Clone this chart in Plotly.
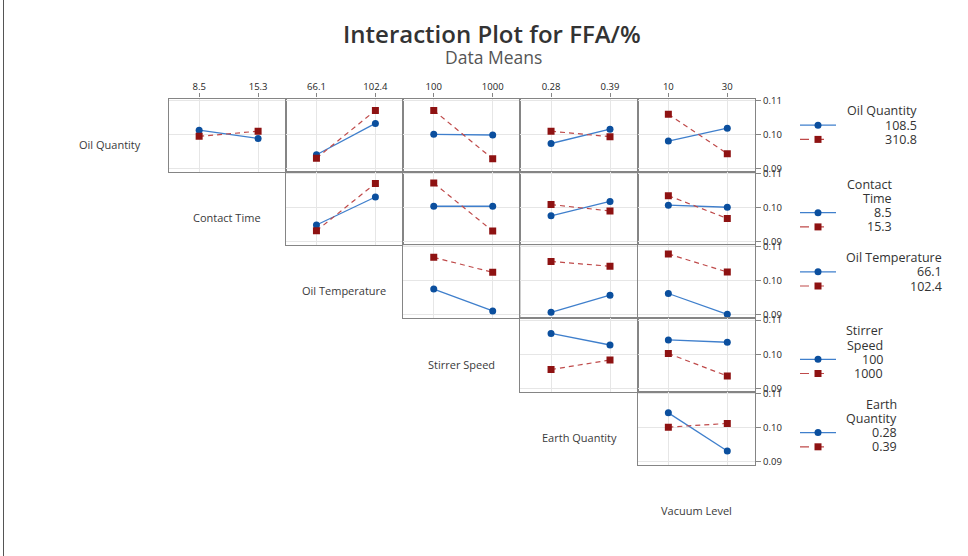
import plotly.graph_objects as go

W, H = 968, 556

# Factors (row trace factors and column x factors of the interaction matrix)
factor_names = ["Oil Quantity", "Contact Time", "Oil Temperature",
                "Stirrer Speed", "Earth Quantity", "Vacuum Level"]
oil_quantity_levels = ["108.5", "310.8"]
contact_time_levels = ["8.5", "15.3"]
oil_temperature_levels = ["66.1", "102.4"]
stirrer_speed_levels = ["100", "1000"]
earth_quantity_levels = ["0.28", "0.39"]
vacuum_level_levels = ["10", "30"]

# Mean FFA/% for each trace level, one [low x, high x] pair per x factor
oil_quantity_low = [[0.1012, 0.0988], [0.0940, 0.1032], [0.1000, 0.0998],
                    [0.0973, 0.1015], [0.0980, 0.1018]]
oil_quantity_high = [[0.0994, 0.1009], [0.0930, 0.1070], [0.1070, 0.0928],
                     [0.1009, 0.0993], [0.1059, 0.0943]]
contact_time_low = [[0.0949, 0.1031], [0.1004, 0.1004], [0.0976, 0.1018],
                    [0.1007, 0.1001]]
contact_time_high = [[0.0932, 0.1071], [0.1072, 0.0931], [0.1009, 0.0990],
                     [0.1035, 0.0968]]
oil_temperature_low = [[0.0976, 0.0912], [0.0908, 0.0958], [0.0963, 0.0902]]
oil_temperature_high = [[0.1069, 0.1025], [0.1057, 0.1043], [0.1079, 0.1026]]
stirrer_speed_low = [[0.1061, 0.1027], [0.1042, 0.1035]]
stirrer_speed_high = [[0.0955, 0.0983], [0.1002, 0.0936]]
earth_quantity_low = [[0.1043, 0.0931]]
earth_quantity_high = [[0.1001, 0.1012]]

y_ticks = [0.09, 0.10, 0.11]

all_levels = [oil_quantity_levels, contact_time_levels, oil_temperature_levels,
              stirrer_speed_levels, earth_quantity_levels, vacuum_level_levels]
rows_low = [oil_quantity_low, contact_time_low, oil_temperature_low,
            stirrer_speed_low, earth_quantity_low]
rows_high = [oil_quantity_high, contact_time_high, oil_temperature_high,
             stirrer_speed_high, earth_quantity_high]

# ---- styling / layout constants ----
BLUE_MK, BLUE_LN = "#0b4f9e", "#3f7fcc"
RED_MK, RED_LN = "#8e1212", "#bf4a4a"
FRAME = "#858585"
GRID = "#e6e6e6"
FONT = "Open Sans, Noto Sans, sans-serif"

COL_L, COL_W = 168.5, 117.3
ROW_T, ROW_H = 98.5, 73.3
X_RANGE = [-0.52, 1.47]
Y_RANGE = [0.0890, 0.1105]


def px(x):
    return x / W


def py(y):
    return 1 - y / H


def label(x, y, text, size, color="#333", xanchor="center", **font_extra):
    return dict(x=px(x), y=py(y), xref="paper", yref="paper", text=text,
                showarrow=False, xanchor=xanchor, yanchor="middle",
                font=dict(family=FONT, size=size, color=color, **font_extra))


fig = go.Figure()
layout = {}
k = 0
for r in range(5):
    for j, c in enumerate(range(r, 5)):
        k += 1
        xa = "xaxis" if k == 1 else f"xaxis{k}"
        ya = "yaxis" if k == 1 else f"yaxis{k}"
        xr = "x" if k == 1 else f"x{k}"
        yr = "y" if k == 1 else f"y{k}"
        x0 = COL_L + COL_W * c
        y0 = ROW_T + ROW_H * r
        xlevels = all_levels[c + 1]
        top_row = r == 0
        right_col = c == 4
        layout[xa] = dict(
            domain=[px(x0), px(x0 + COL_W)], anchor=yr, range=X_RANGE,
            tickmode="array", tickvals=[0, 1], ticktext=xlevels,
            showgrid=True, gridcolor=GRID, gridwidth=1, zeroline=False,
            showline=True, mirror=True, linecolor=FRAME, linewidth=1.3,
            side="top", ticks="outside" if top_row else "", ticklen=4,
            tickcolor=FRAME, showticklabels=top_row, automargin=False,
            tickfont=dict(family=FONT, size=9.5, color="#1e1e1e"),
            fixedrange=True)
        layout[ya] = dict(
            domain=[py(y0 + ROW_H), py(y0)], anchor=xr, range=Y_RANGE,
            tickmode="array", tickvals=y_ticks, tickformat=".2f",
            showgrid=True, gridcolor=GRID, gridwidth=1, zeroline=False,
            showline=True, mirror=True, linecolor=FRAME, linewidth=1.3,
            side="right", ticks="outside" if right_col else "", ticklen=5,
            tickcolor=FRAME, showticklabels=right_col, automargin=False,
            tickfont=dict(family=FONT, size=9.5, color="#1e1e1e"),
            fixedrange=True)
        fig.add_trace(go.Scatter(
            x=[0, 1], y=rows_low[r][j], xaxis=xr, yaxis=yr, mode="lines+markers",
            line=dict(color=BLUE_LN, width=1.3),
            marker=dict(symbol="circle", size=7, color=BLUE_MK),
            showlegend=False, hoverinfo="skip"))
        fig.add_trace(go.Scatter(
            x=[0, 1], y=rows_high[r][j], xaxis=xr, yaxis=yr, mode="lines+markers",
            line=dict(color=RED_LN, width=1.2, dash="5px,4px"),
            marker=dict(symbol="square", size=7, color=RED_MK),
            showlegend=False, hoverinfo="skip"))

annotations = []
shapes = []

# Title
annotations.append(label(492, 34, "Interaction Plot for FFA/%", 24,
                         weight=600))
annotations.append(label(493, 56.5, "Data Means", 17.5, color="#555"))

# Factor names on the diagonal
for i, name in enumerate(factor_names):
    cx = COL_L + COL_W * (i - 0.5)
    cy = ROW_T + ROW_H * (i + 0.5) + 9
    annotations.append(label(cx, cy, name, 11, color="#3a3a3a"))

# Legends, one per row
legend_titles = [["Oil Quantity"], ["Contact", "Time"], ["Oil Temperature"],
                 ["Stirrer", "Speed"], ["Earth", "Quantity"]]
legend_right = [919, 893.5, 944, 885, 898.5]
LINE = 14.2
GL0, GL1, GM, MR = 800, 836, 818, 3.5
for r in range(5):
    y0 = ROW_T + ROW_H * r + 12.5
    lines = legend_titles[r] + all_levels[r]
    for n, t in enumerate(lines):
        annotations.append(label(legend_right[r], y0 + LINE * n, t, 12.5,
                                 xanchor="right"))
    yb = y0 + LINE * len(legend_titles[r])
    yd = yb + LINE
    shapes.append(dict(type="line", xref="paper", yref="paper",
                       x0=px(GL0), x1=px(GL1), y0=py(yb), y1=py(yb),
                       line=dict(color=BLUE_LN, width=1.3)))
    shapes.append(dict(type="circle", xref="paper", yref="paper",
                       x0=px(GM - MR), x1=px(GM + MR),
                       y0=py(yb + MR), y1=py(yb - MR),
                       fillcolor=BLUE_MK, line=dict(width=0)))
    shapes.append(dict(type="line", xref="paper", yref="paper",
                       x0=px(GL0), x1=px(GL1 - 6), y0=py(yd), y1=py(yd),
                       line=dict(color=RED_LN, width=1.2, dash="9px,6px")))
    shapes.append(dict(type="rect", xref="paper", yref="paper",
                       x0=px(GM - MR), x1=px(GM + MR),
                       y0=py(yd + MR), y1=py(yd - MR),
                       fillcolor=RED_MK, line=dict(width=0)))

# Outer frame edge
shapes.append(dict(type="line", xref="paper", yref="paper", x0=px(3.5),
                   x1=px(3.5), y0=0, y1=1, line=dict(color="#555", width=1)))

fig.update_layout(
    width=W, height=H, margin=dict(l=0, r=0, t=0, b=0, autoexpand=False),
    paper_bgcolor="white", plot_bgcolor="white",
    annotations=annotations, shapes=shapes, showlegend=False,
    **layout)

fig.write_html("out.html")
